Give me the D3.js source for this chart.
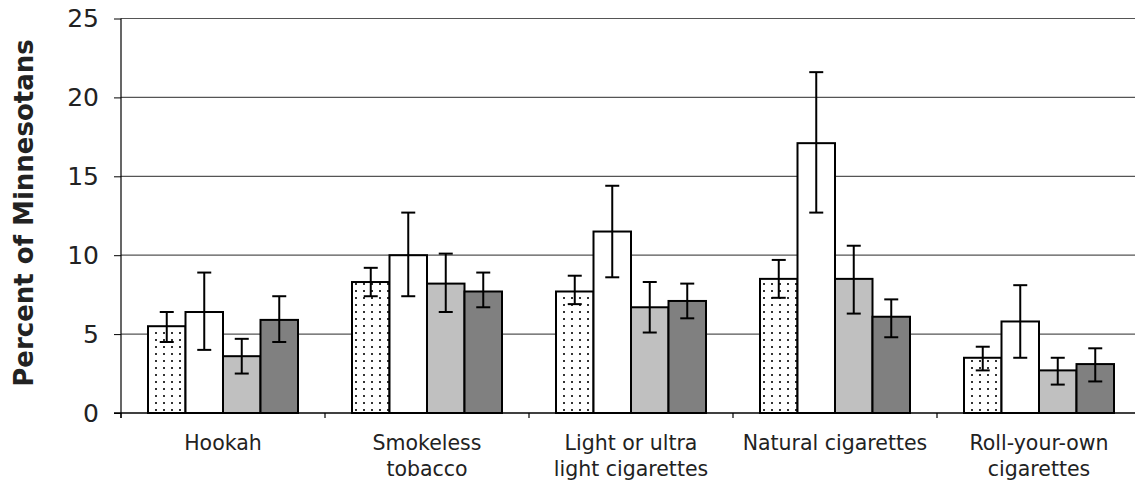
<!DOCTYPE html>
<html>
<head>
<meta charset="utf-8">
<title>Tobacco products</title>
<script src="https://d3js.org/d3.v7.min.js"></script>
<style>
  body { margin: 0; background: #fff; }
  svg { display: block; }
  .yaxis text { font-family: "DejaVu Sans", Verdana, sans-serif; font-size: 25px; fill: #222; }
  .yaxis line { stroke: #000; }
  .catlabel { font-family: "DejaVu Sans", Verdana, sans-serif; font-size: 20.5px; fill: #222; text-anchor: middle; }
  .ytitle { font-family: "DejaVu Sans", Verdana, sans-serif; font-size: 26px; font-weight: bold; fill: #222; text-anchor: middle; }
</style>
</head>
<body>
<script>
// categories and their two-line labels
var categories = ["Hookah", "Smokeless tobacco", "Light or ultra light cigarettes", "Natural cigarettes", "Roll-your-own cigarettes"];
var labelLines = [["Hookah"], ["Smokeless", "tobacco"], ["Light or ultra", "light cigarettes"], ["Natural cigarettes"], ["Roll-your-own", "cigarettes"]];

// four series (no legend in the original), value + error bar low/high
var s1 = [5.5, 8.3, 7.7, 8.5, 3.5];
var s1Lo = [4.5, 7.4, 6.9, 7.3, 2.7];
var s1Hi = [6.4, 9.2, 8.7, 9.7, 4.2];

var s2 = [6.4, 10.0, 11.5, 17.1, 5.8];
var s2Lo = [4.0, 7.4, 8.6, 12.7, 3.5];
var s2Hi = [8.9, 12.7, 14.4, 21.6, 8.1];

var s3 = [3.6, 8.2, 6.7, 8.5, 2.7];
var s3Lo = [2.5, 6.4, 5.1, 6.3, 1.8];
var s3Hi = [4.7, 10.1, 8.3, 10.6, 3.5];

var s4 = [5.9, 7.7, 7.1, 6.1, 3.1];
var s4Lo = [4.5, 6.7, 6.0, 4.8, 2.0];
var s4Hi = [7.4, 8.9, 8.2, 7.2, 4.1];

var yTicks = [0, 5, 10, 15, 20, 25];
var yTitle = "Percent of Minnesotans";

var width = 1135, height = 483;
var pad = {left: 121, right: 1141, top: 18.5, bottom: 413};

var series = [
  {v: s1, lo: s1Lo, hi: s1Hi, fill: "url(#dots)"},
  {v: s2, lo: s2Lo, hi: s2Hi, fill: "#ffffff"},
  {v: s3, lo: s3Lo, hi: s3Hi, fill: "#c0c0c0"},
  {v: s4, lo: s4Lo, hi: s4Hi, fill: "#808080"}
];

var svg = d3.select("body").append("svg")
  .attr("width", width)
  .attr("height", height);

// dotted pattern for the first series
var pat = svg.append("defs").append("pattern")
  .attr("id", "dots")
  .attr("patternUnits", "userSpaceOnUse")
  .attr("width", 8).attr("height", 7);
pat.append("rect").attr("width", 8).attr("height", 7).attr("fill", "#fff");
pat.append("rect").attr("x", 3).attr("y", 3).attr("width", 2).attr("height", 2).attr("fill", "#333");

var y = d3.scaleLinear().domain([0, 25]).range([pad.bottom, pad.top]);
var x0 = d3.scaleBand().domain(categories).range([pad.left, pad.right]);
var x1 = d3.scaleBand().domain(d3.range(series.length)).range([0, x0.bandwidth()]).paddingOuter(0.72);

// gridlines
svg.append("g").selectAll("line")
  .data(yTicks.filter(function(d){ return d > 0; }))
  .enter().append("line")
  .attr("x1", pad.left).attr("x2", pad.right)
  .attr("y1", function(d){ return y(d); })
  .attr("y2", function(d){ return y(d); })
  .attr("stroke", "#555")
  .attr("stroke-width", 1.2);

// bars
var groups = svg.append("g").selectAll("g")
  .data(series)
  .enter().append("g");

groups.selectAll("rect")
  .data(function(s, si){ return s.v.map(function(v, i){ return {v: v, cat: categories[i], si: si, fill: s.fill}; }); })
  .enter().append("rect")
  .attr("x", function(d){ return x0(d.cat) + x1(d.si); })
  .attr("y", function(d){ return y(d.v); })
  .attr("width", x1.bandwidth())
  .attr("height", function(d){ return y(0) - y(d.v); })
  .attr("fill", function(d){ return d.fill; })
  .attr("stroke", "#000")
  .attr("stroke-width", 2);

// error bars
var cap = 7;
var errs = svg.append("g").attr("stroke", "#000").attr("stroke-width", 2);
series.forEach(function(s, si){
  s.v.forEach(function(v, i){
    var cx = x0(categories[i]) + x1(si) + x1.bandwidth() / 2;
    errs.append("line").attr("x1", cx).attr("x2", cx).attr("y1", y(s.lo[i])).attr("y2", y(s.hi[i]));
    errs.append("line").attr("x1", cx - cap).attr("x2", cx + cap).attr("y1", y(s.lo[i])).attr("y2", y(s.lo[i]));
    errs.append("line").attr("x1", cx - cap).attr("x2", cx + cap).attr("y1", y(s.hi[i])).attr("y2", y(s.hi[i]));
  });
});

// y axis
svg.append("g")
  .attr("class", "yaxis")
  .attr("transform", "translate(" + pad.left + ",0)")
  .call(d3.axisLeft(y).tickValues(yTicks).tickSize(7).tickPadding(15))
  .call(function(g){ g.select(".domain").remove(); });

svg.append("line")
  .attr("x1", pad.left).attr("x2", pad.left)
  .attr("y1", y(25)).attr("y2", y(0) + 5)
  .attr("stroke", "#000").attr("stroke-width", 1.2);

// x axis baseline and category boundary ticks
svg.append("line")
  .attr("x1", pad.left - 7).attr("x2", pad.right)
  .attr("y1", y(0)).attr("y2", y(0))
  .attr("stroke", "#000").attr("stroke-width", 1.5);

svg.append("g").selectAll("line")
  .data(categories)
  .enter().append("line")
  .attr("x1", function(d){ return x0(d); })
  .attr("x2", function(d){ return x0(d); })
  .attr("y1", y(0)).attr("y2", y(0) + 5)
  .attr("stroke", "#000").attr("stroke-width", 1.2);

// category labels
svg.append("g").selectAll("text")
  .data(categories)
  .enter().append("text")
  .attr("class", "catlabel")
  .attr("x", function(d){ return x0(d) + x0.bandwidth() / 2; })
  .attr("y", 450)
  .each(function(d, i){
    var t = d3.select(this);
    labelLines[i].forEach(function(line, k){
      t.append("tspan")
        .attr("x", x0(d) + x0.bandwidth() / 2)
        .attr("dy", k === 0 ? 0 : 26)
        .text(line);
    });
  });

// y title
svg.append("text")
  .attr("class", "ytitle")
  .attr("transform", "translate(33,213) rotate(-90)")
  .text(yTitle);
</script>
</body>
</html>
